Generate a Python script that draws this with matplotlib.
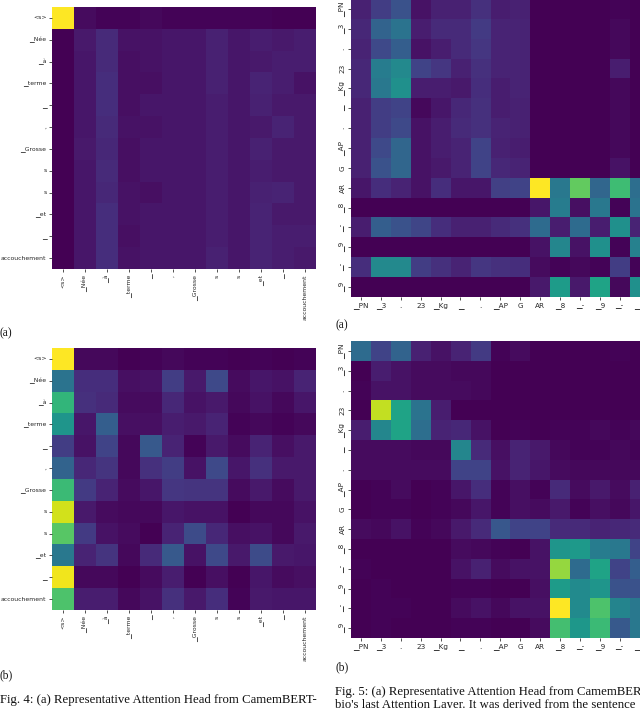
import numpy as np
import matplotlib
matplotlib.use("Agg")
import matplotlib.pyplot as plt

tokens_fr = ["<s>", "▁Née", "▁à", "▁terme", "▁", ",", "▁Grosse", "s", "s", "▁et", "▁", "accouchement"]
tokens_en = ["▁PN", "▁3", ".", "23", "▁Kg", "▁", ".", "▁AP", "G", "AR", "▁8", "▁-", "▁9", "▁-", "▁9"]

head_a = [
    [1.00, .03, .01, .01, .02, .01, .01, .01, .01, .01, .00, .00],
    [.00, .07, .12, .05, .05, .06, .06, .09, .06, .08, .07, .08],
    [.00, .06, .12, .04, .05, .06, .06, .09, .06, .07, .08, .08],
    [.00, .06, .13, .04, .04, .06, .06, .09, .06, .10, .08, .05],
    [.00, .06, .13, .04, .06, .06, .06, .08, .06, .09, .07, .07],
    [.00, .06, .12, .05, .05, .06, .06, .08, .06, .07, .10, .07],
    [.00, .07, .11, .04, .06, .06, .06, .08, .06, .09, .07, .07],
    [.00, .06, .12, .04, .06, .06, .06, .08, .06, .08, .07, .07],
    [.00, .06, .11, .05, .04, .06, .06, .08, .06, .09, .10, .07],
    [.00, .06, .13, .05, .06, .06, .06, .08, .06, .10, .07, .07],
    [.00, .06, .13, .04, .06, .06, .06, .08, .06, .10, .08, .08],
    [.00, .06, .13, .05, .06, .06, .06, .09, .06, .10, .08, .07],
]
head_b = [
    [1.00, .02, .02, .00, .01, .02, .01, .01, .00, .01, .00, .01],
    [.38, .13, .13, .04, .05, .18, .07, .22, .03, .06, .05, .10],
    [.66, .14, .12, .03, .03, .11, .05, .07, .02, .05, .02, .06],
    [.52, .06, .30, .04, .04, .08, .07, .10, .01, .02, .01, .02],
    [.18, .05, .20, .02, .28, .10, .01, .07, .03, .10, .04, .07],
    [.32, .11, .15, .02, .14, .18, .05, .22, .06, .14, .07, .07],
    [.68, .17, .10, .03, .06, .16, .15, .15, .03, .07, .03, .07],
    [.93, .07, .03, .02, .02, .06, .05, .05, .00, .02, .02, .05],
    [.74, .17, .05, .03, .00, .10, .23, .11, .04, .05, .02, .07],
    [.40, .10, .15, .02, .12, .28, .05, .22, .07, .23, .07, .06],
    [.98, .02, .02, .00, .03, .08, .00, .04, .00, .06, .03, .04],
    [.72, .08, .08, .02, .05, .14, .07, .13, .01, .07, .06, .06],
]
head_c = [
    [.09, .18, .25, .05, .09, .09, .14, .08, .09, .00, .00, .00, .00, .01, .00],
    [.11, .32, .38, .08, .12, .12, .17, .10, .10, .00, .00, .00, .00, .02, .00],
    [.10, .22, .30, .05, .08, .12, .16, .10, .10, .00, .00, .00, .00, .02, .00],
    [.11, .42, .47, .20, .16, .09, .14, .10, .10, .00, .00, .00, .00, .08, .00],
    [.11, .40, .50, .08, .08, .07, .13, .08, .10, .00, .00, .00, .00, .02, .00],
    [.09, .18, .20, .02, .06, .11, .14, .08, .09, .00, .00, .00, .00, .02, .00],
    [.09, .18, .22, .05, .08, .12, .14, .10, .09, .00, .00, .00, .00, .02, .00],
    [.09, .22, .33, .05, .08, .10, .20, .09, .08, .00, .00, .00, .00, .02, .00],
    [.09, .25, .33, .05, .07, .10, .20, .11, .10, .00, .00, .00, .00, .05, .00],
    [.06, .13, .10, .05, .13, .06, .06, .19, .20, 1.00, .40, .76, .33, .69, .36],
    [.00, .00, .00, .00, .00, .00, .00, .00, .00, .06, .42, .04, .40, .01, .38],
    [.08, .30, .25, .21, .13, .09, .09, .12, .14, .35, .08, .35, .08, .50, .10],
    [.00, .00, .00, .00, .00, .00, .00, .00, .00, .05, .46, .05, .50, .01, .44],
    [.13, .47, .47, .18, .14, .10, .16, .14, .13, .03, .01, .02, .01, .18, .01],
    [.00, .00, .00, .00, .00, .00, .00, .00, .00, .07, .55, .07, .58, .02, .50],
]
head_d = [
    [.35, .20, .32, .09, .05, .10, .17, .01, .03, .00, .00, .00, .00, .01, .00],
    [.00, .08, .05, .03, .03, .02, .02, .00, .00, .00, .00, .00, .00, .00, .00],
    [.01, .05, .05, .03, .03, .03, .02, .00, .00, .00, .00, .00, .00, .00, .00],
    [.00, .91, .58, .38, .08, .00, .00, .00, .00, .00, .00, .00, .00, .00, .00],
    [.08, .46, .58, .36, .10, .11, .05, .00, .01, .00, .01, .01, .02, .01, .02],
    [.03, .03, .03, .02, .02, .46, .12, .04, .10, .07, .02, .01, .01, .02, .01],
    [.03, .03, .03, .03, .03, .20, .20, .05, .10, .06, .03, .02, .02, .02, .02],
    [.00, .01, .03, .00, .01, .06, .13, .01, .04, .01, .12, .03, .07, .03, .09],
    [.00, .01, .01, .00, .01, .02, .06, .01, .04, .03, .07, .01, .04, .02, .06],
    [.03, .02, .05, .01, .02, .07, .12, .27, .20, .20, .12, .12, .10, .11, .12],
    [.00, .00, .00, .00, .00, .03, .02, .01, .00, .05, .52, .54, .42, .40, .20],
    [.01, .00, .00, .00, .00, .05, .09, .03, .05, .05, .84, .35, .58, .20, .30],
    [.00, .01, .00, .00, .00, .01, .01, .00, .00, .04, .55, .48, .52, .25, .25],
    [.00, .01, .01, .00, .00, .03, .05, .02, .05, .05, 1.00, .48, .72, .45, .40],
    [.00, .01, .00, .00, .00, .01, .01, .00, .00, .03, .70, .53, .68, .28, .40],
]

W, H = 640, 708
fig = plt.figure(figsize=(W / 100, H / 100), dpi=100, facecolor="white")


def panel(matrix, labels, box, xrot, yrot, size):
    left, top, right, bottom = box
    ax = fig.add_axes([left / W, 1 - bottom / H, (right - left) / W, (bottom - top) / H])
    ax.imshow(matrix, cmap="viridis", vmin=0, vmax=1, aspect="auto", interpolation="nearest")
    ticks = np.arange(len(labels))
    ax.set_xticks(ticks, labels, rotation=xrot, fontsize=size, color="#262626")
    ax.set_yticks(ticks, labels, rotation=yrot, va="center", fontsize=size, color="#262626")
    ax.tick_params(length=2, width=0.6, pad=2, color="#333333")
    for s in ax.spines.values():
        s.set_visible(False)
    return ax


panel(head_a, tokens_fr, (52, 7, 316, 269), 90, 0, 4.4)
panel(head_b, tokens_fr, (52, 348, 316, 610), 90, 0, 4.4)
panel(head_c, tokens_en, (351, -1, 649.5, 297), 0, 90, 5.2)
panel(head_d, tokens_en, (351, 341, 649.5, 638), 0, 90, 5.2)

serif = "Liberation Serif"


def label(x, y, s, size=8.3):
    fig.text(x / W, 1 - y / H, s, family=serif, fontsize=size, va="center", ha="left", color="#111111")


label(0, 333, "(a)")
label(0, 675, "(b)")
label(335, 325, "(a)")
label(335, 667, "(b)")
label(0, 700, "Fig. 4: (a) Representative Attention Head from CamemBERT-", 9.15)
label(335, 692, "Fig. 5: (a) Representative Attention Head from CamemBERT", 9.15)
label(335, 705, "bio's last Attention Layer. It was derived from the sentence", 9.15)

fig.savefig("out.png", dpi=100)
